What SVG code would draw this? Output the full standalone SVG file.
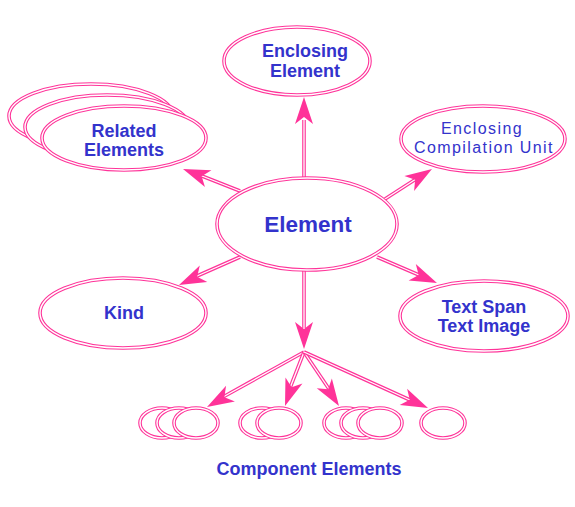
<svg xmlns="http://www.w3.org/2000/svg" width="575" height="507" viewBox="0 0 575 507">
<style>
.o{fill:#fff;stroke:#ff3399;stroke-width:3.6}
.i{fill:none;stroke:#fff;stroke-width:1.4}
.lo{fill:none;stroke:#ff3399;stroke-width:3.6}
.li{fill:none;stroke:#fff;stroke-width:1.3}
.h{fill:none;stroke:none;marker-end:url(#ah)}
text{font-family:"Liberation Sans",Arial,sans-serif;font-weight:bold;fill:#3333cc;text-anchor:middle;font-size:18px}
</style>
<defs>
<marker id="ah" markerUnits="userSpaceOnUse" viewBox="-28 -10 30 20" markerWidth="30" markerHeight="20" refX="0" refY="0" orient="auto" overflow="visible">
<path d="M0,0 L-27,-9 L-20,0 L-27,9 Z" fill="#ff3399"/>
</marker>
</defs>
<g id="connectors">
<g><path class="lo" d="M304,177 L304,120"/><path class="li" d="M304,177 L304,120"/><path class="h" d="M304,177 L304,97"/></g>
<g><path class="lo" d="M240,191 L202,176"/><path class="li" d="M240,191 L202,176"/><path class="h" d="M240,191 L183,169"/></g>
<g><path class="lo" d="M385,199 L416,179"/><path class="li" d="M385,199 L416,179"/><path class="h" d="M385,199 L432,169"/></g>
<g><path class="lo" d="M240,257 L197,276"/><path class="li" d="M240,257 L197,276"/><path class="h" d="M240,257 L179,285"/></g>
<g><path class="lo" d="M377,257 L419,275"/><path class="li" d="M377,257 L419,275"/><path class="h" d="M377,257 L437,283"/></g>
<g><path class="lo" d="M304,270 L304,328"/><path class="li" d="M304,270 L304,328"/><path class="h" d="M304,270 L304,349"/></g>
<g><path class="lo" d="M304,352 L223,397"/><path class="li" d="M304,352 L223,397"/><path class="h" d="M304,352 L207,407"/></g>
<g><path class="lo" d="M304,352 L290,388"/><path class="li" d="M304,352 L290,388"/><path class="h" d="M304,352 L285,406"/></g>
<g><path class="lo" d="M304,352 L329,389"/><path class="li" d="M304,352 L329,389"/><path class="h" d="M304,352 L339,406"/></g>
<g><path class="lo" d="M304,352 L410,400"/><path class="li" d="M304,352 L410,400"/><path class="h" d="M304,352 L428,408"/></g>
</g>
<g id="enclosing-element">
<ellipse class="o" cx="297" cy="61" rx="73" ry="34"/><ellipse class="i" cx="297" cy="61" rx="73" ry="34"/>
<text x="305" y="57">Enclosing</text><text x="305" y="77">Element</text>
</g>
<g id="related-elements">
<ellipse class="o" cx="91" cy="116" rx="82" ry="32"/><ellipse class="i" cx="91" cy="116" rx="82" ry="32"/>
<ellipse class="o" cx="107" cy="127" rx="82" ry="32"/><ellipse class="i" cx="107" cy="127" rx="82" ry="32"/>
<ellipse class="o" cx="124" cy="138" rx="82" ry="32"/><ellipse class="i" cx="124" cy="138" rx="82" ry="32"/>
<text x="124" y="137">Related</text><text x="124" y="156">Elements</text>
</g>
<g id="enclosing-compilation-unit">
<ellipse class="o" cx="483" cy="139" rx="82" ry="33"/><ellipse class="i" cx="483" cy="139" rx="82" ry="33"/>
<text x="482" y="134" style="font-weight:normal;font-size:16px;letter-spacing:1.4px">Enclosing</text>
<text x="484" y="153" style="font-weight:normal;font-size:16px;letter-spacing:1.4px">Compilation Unit</text>
</g>
<g id="element">
<ellipse class="o" cx="307" cy="224" rx="90" ry="46"/><ellipse class="i" cx="307" cy="224" rx="90" ry="46"/>
<text x="308" y="232" style="font-size:22.5px">Element</text>
</g>
<g id="kind">
<ellipse class="o" cx="123" cy="313" rx="83" ry="35"/><ellipse class="i" cx="123" cy="313" rx="83" ry="35"/>
<text x="124" y="319">Kind</text>
</g>
<g id="text-span">
<ellipse class="o" cx="484" cy="316" rx="84" ry="35"/><ellipse class="i" cx="484" cy="316" rx="84" ry="35"/>
<text x="484" y="313">Text Span</text><text x="484" y="332">Text Image</text>
</g>
<g id="component-elements">
<ellipse class="o" cx="162" cy="423" rx="22" ry="15"/><ellipse class="i" cx="162" cy="423" rx="22" ry="15"/>
<ellipse class="o" cx="179" cy="423" rx="22" ry="15"/><ellipse class="i" cx="179" cy="423" rx="22" ry="15"/>
<ellipse class="o" cx="196" cy="423" rx="22" ry="15"/><ellipse class="i" cx="196" cy="423" rx="22" ry="15"/>
<ellipse class="o" cx="262" cy="423" rx="22" ry="15"/><ellipse class="i" cx="262" cy="423" rx="22" ry="15"/>
<ellipse class="o" cx="279" cy="423" rx="22" ry="15"/><ellipse class="i" cx="279" cy="423" rx="22" ry="15"/>
<ellipse class="o" cx="346" cy="423" rx="22" ry="15"/><ellipse class="i" cx="346" cy="423" rx="22" ry="15"/>
<ellipse class="o" cx="363" cy="423" rx="22" ry="15"/><ellipse class="i" cx="363" cy="423" rx="22" ry="15"/>
<ellipse class="o" cx="380" cy="423" rx="22" ry="15"/><ellipse class="i" cx="380" cy="423" rx="22" ry="15"/>
<ellipse class="o" cx="443" cy="423" rx="22" ry="15"/><ellipse class="i" cx="443" cy="423" rx="22" ry="15"/>
<text x="309" y="475">Component Elements</text>
</g>
</svg>
